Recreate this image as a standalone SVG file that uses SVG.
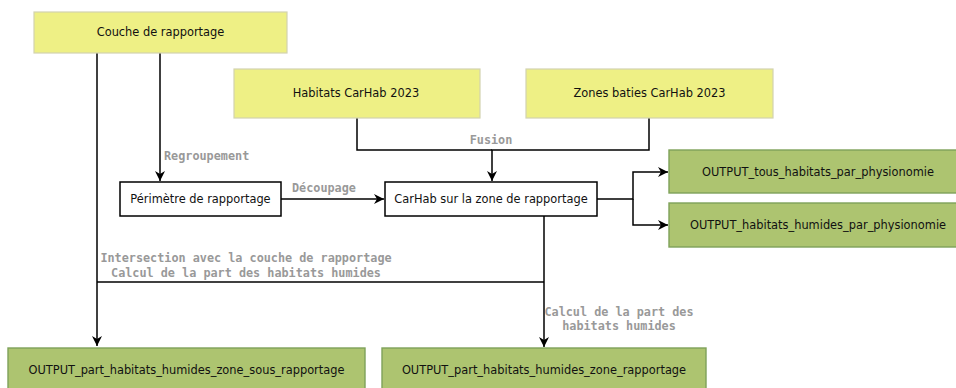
<svg xmlns="http://www.w3.org/2000/svg" width="956" height="388" viewBox="0 0 956 388">
<style>
.inp{fill:#eef085;stroke:#d2d3b0;stroke-width:1.2}
.out{fill:#adc470;stroke:#7ea25a;stroke-width:1.4}
.proc{fill:#ffffff;stroke:#000000;stroke-width:1.5}
.nt{font-family:"DejaVu Sans",sans-serif;font-size:11.4px;fill:#111;text-anchor:middle}
.el{font-family:"DejaVu Sans Mono",monospace;font-size:11.8px;font-weight:bold;fill:#999999}
.e{fill:none;stroke:#000;stroke-width:1.5}
</style>
<defs>
<marker id="arr" markerUnits="userSpaceOnUse" markerWidth="12" markerHeight="10" refX="10" refY="5" orient="auto">
<path d="M0,0 L10,5 L0,10 L3,5 Z" fill="#000"/>
</marker>
</defs>
<rect width="956" height="388" fill="#ffffff"/>
<g id="connectors">
<path class="e" d="M97,53 V346" marker-end="url(#arr)"/>
<path class="e" d="M160,53 V181" marker-end="url(#arr)"/>
<path class="e" d="M281,199 H384" marker-end="url(#arr)"/>
<path class="e" d="M357,118 V150 H492"/>
<path class="e" d="M649,118 V150 H492 V181" marker-end="url(#arr)"/>
<path class="e" d="M597,199 H633 V172 H668" marker-end="url(#arr)"/>
<path class="e" d="M633,199 V225 H668" marker-end="url(#arr)"/>
<path class="e" d="M544,216 V347" marker-end="url(#arr)"/>
<path class="e" d="M97,282 H544"/>
<text class="el" x="164" y="160">Regroupement</text>
<text class="el" x="292" y="192">Découpage</text>
<text class="el" x="491" y="144" text-anchor="middle">Fusion</text>
<text class="el" x="246" y="262" text-anchor="middle">Intersection avec la couche de rapportage</text>
<text class="el" x="246" y="277" text-anchor="middle">Calcul de la part des habitats humides</text>
<text class="el" x="619" y="316" text-anchor="middle">Calcul de la part des</text>
<text class="el" x="619" y="330" text-anchor="middle">habitats humides</text>
</g>
<g id="couche">
<rect class="inp" x="34" y="12" width="253" height="41"/>
<text class="nt" x="160.5" y="36">Couche de rapportage</text>
</g>
<g id="habitats">
<rect class="inp" x="234" y="69" width="246" height="49"/>
<text class="nt" x="356" y="97">Habitats CarHab 2023</text>
</g>
<g id="zones">
<rect class="inp" x="526" y="69" width="247" height="49"/>
<text class="nt" x="649.5" y="97">Zones baties CarHab 2023</text>
</g>
<g id="perimetre">
<rect class="proc" x="120" y="182" width="161" height="34"/>
<text class="nt" x="200.5" y="203">Périmètre de rapportage</text>
</g>
<g id="carhab">
<rect class="proc" x="385" y="182" width="212" height="34"/>
<text class="nt" x="491" y="203">CarHab sur la zone de rapportage</text>
</g>
<g id="out_tous">
<rect class="out" x="669" y="150" width="298" height="43"/>
<text class="nt" x="818" y="176">OUTPUT_tous_habitats_par_physionomie</text>
</g>
<g id="out_humides">
<rect class="out" x="669" y="203" width="298" height="44"/>
<text class="nt" x="818" y="229">OUTPUT_habitats_humides_par_physionomie</text>
</g>
<g id="out_sous">
<rect class="out" x="8" y="348" width="357" height="44"/>
<text class="nt" x="186.5" y="374">OUTPUT_part_habitats_humides_zone_sous_rapportage</text>
</g>
<g id="out_zone">
<rect class="out" x="382" y="348" width="324" height="44"/>
<text class="nt" x="544" y="374">OUTPUT_part_habitats_humides_zone_rapportage</text>
</g>
</svg>
